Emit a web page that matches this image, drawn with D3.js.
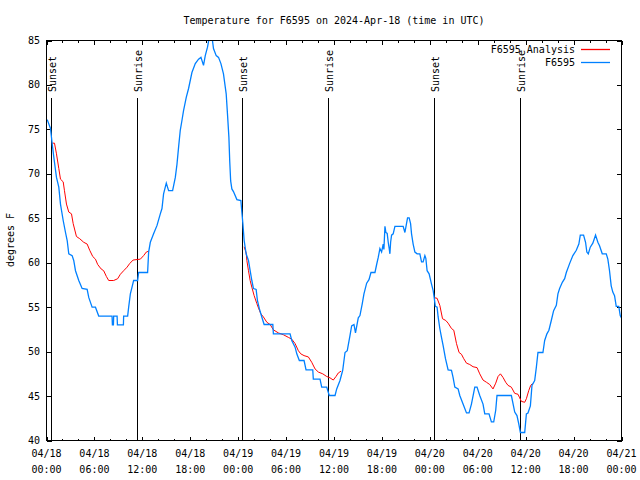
<!DOCTYPE html>
<html>
<head>
<meta charset="utf-8">
<script src="https://cdn.jsdelivr.net/npm/d3@7"></script>
<style>
  body { margin: 0; background: #fff; }
  svg { display: block; }
  text { font-family: "DejaVu Sans Mono", "Liberation Mono", monospace; font-size: 10px; fill: #000; }
</style>
</head>
<body>
<svg id="chart" width="640" height="480"></svg>
<script>
// ---- data (hours since 2024-04-18 00:00 UTC, degrees F) ----
const title = "Temperature for F6595 on 2024-Apr-18 (time in UTC)";
const yLabel = "degrees F";
const obsName = "F6595";
const anaName = "F6595 Analysis";

const obsHours = [0.09,0.5,0.71,0.91,1.13,1.25,1.54,1.75,2.09,2.38,2.59,2.79,3.21,3.41,3.63,4.04,4.46,5.09,5.29,5.71,6.13,6.54,8.21,8.25,8.38,8.41,8.84,8.88,9.63,9.66,10.16,10.29,10.5,10.71,10.91,11.41,11.54,12.66,12.79,13.0,13.41,13.84,14.25,14.46,14.66,15.0,15.29,15.79,16.13,16.34,16.54,16.75,16.96,17.16,17.5,17.79,18.21,18.63,19.04,19.34,19.66,19.88,20.16,20.41,20.71,20.91,21.25,21.54,21.84,22.16,22.5,22.66,22.84,22.94,23.06,23.21,23.41,23.84,24.34,24.46,24.59,24.75,25.0,25.29,25.5,25.71,25.91,26.25,26.41,26.66,26.96,27.25,28.34,28.41,30.5,30.71,31.13,31.34,31.66,32.25,32.5,33.34,33.41,34.25,34.46,35.09,35.29,35.41,36.13,36.34,36.75,37.09,37.38,37.66,38.0,38.21,38.5,38.69,39.04,39.25,39.54,39.75,40.09,40.38,40.63,41.13,41.34,41.54,41.75,41.96,42.16,42.25,42.38,42.5,42.66,42.79,42.91,43.0,43.09,43.21,43.41,43.63,44.66,44.88,45.09,45.21,45.41,45.59,45.71,45.91,46.13,46.41,46.75,46.96,47.16,47.38,47.5,47.66,47.91,48.21,48.41,48.54,48.69,48.91,49.04,49.25,49.46,49.66,49.96,50.29,50.71,50.91,51.13,51.54,51.75,52.16,52.59,52.91,53.21,53.63,53.91,54.25,54.66,54.88,55.41,55.71,56.0,56.25,56.41,58.21,58.63,58.91,59.13,59.34,59.88,60.09,60.29,60.59,60.79,61.13,61.34,61.54,62.16,62.38,62.66,62.91,63.21,63.5,63.84,64.04,64.25,64.59,64.88,65.09,65.5,65.91,66.34,66.66,66.84,67.25,67.5,67.66,67.84,68.09,68.41,68.75,69.04,69.25,69.59,70.09,70.29,70.5,70.71,70.91,71.13,71.34,71.66,71.84,72.0];
const obsTemps = [76.1,75.1,73.4,71.9,70.4,69.6,68.5,66.6,64.75,63.4,62.5,61.0,60.8,60.25,59.1,58.0,57.1,57.0,56.1,55.0,55.0,54.0,54.0,53.0,53.0,54.0,54.0,53.0,53.0,54.0,54.0,55.0,56.5,57.25,58.0,58.0,58.9,58.9,61.2,62.3,63.25,64.2,65.5,66.1,67.75,68.95,68.1,68.1,69.6,71.1,73.0,74.9,76.0,77.1,78.6,79.6,81.4,82.4,82.9,83.1,82.2,83.3,84.25,85.5,85.5,84.1,83.3,83.1,82.4,81.25,79.0,76.75,74.1,71.5,69.2,68.3,68.0,67.1,67.0,65.7,64.4,62.5,61.0,60.25,59.1,58.0,57.1,57.0,55.75,54.8,53.9,53.05,53.05,52.0,52.0,51.25,50.5,49.75,49.0,49.0,47.95,47.95,46.9,46.9,46.0,46.0,45.4,45.06,45.06,45.8,46.75,47.9,49.9,50.1,51.8,52.9,53.05,52.1,53.8,54.06,55.4,56.5,57.7,58.1,58.9,58.9,59.8,60.6,61.6,61.2,62.1,61.5,64.1,63.4,63.3,62.3,61.6,61.0,62.3,63.1,63.25,64.1,64.1,63.4,64.45,65.05,65.05,64.4,63.25,62.1,61.2,61.0,61.0,60.1,60.1,60.8,60.5,59.1,58.75,57.6,56.9,56.1,55.1,55.0,53.9,52.6,51.6,50.7,49.2,47.95,47.9,47.1,46.0,45.8,45.06,44.1,43.1,43.1,44.1,46.0,46.0,45.06,44.1,43.0,43.0,42.1,42.1,43.4,45.06,45.06,43.2,42.8,41.9,40.9,40.9,43.0,43.1,43.9,46.2,46.75,48.25,49.9,49.9,51.25,52.0,52.4,53.5,54.6,55.2,56.5,57.1,57.8,58.2,58.9,59.9,60.8,61.4,62.1,63.1,63.1,62.3,61.2,61.0,61.75,62.2,63.1,62.3,61.9,61.0,61.0,60.4,59.1,57.4,56.7,56.3,55.1,55.1,54.06,53.8];

// analysis series; null marks a gap between runs
const anaHours = [0.71,1.0,1.25,1.54,1.75,2.09,2.25,2.5,2.79,3.13,3.34,3.75,4.16,4.66,5.09,5.41,5.79,6.13,6.41,6.84,7.16,7.5,7.79,8.41,8.91,9.25,9.66,10.09,10.41,10.84,11.34,11.75,12.16,12.5,12.79,
  13.0,
  24.75,25.0,25.09,25.29,25.5,25.71,26.0,26.34,26.59,26.84,27.16,27.59,28.0,28.41,29.04,29.66,30.29,30.71,31.13,31.54,31.84,32.25,32.79,33.21,33.63,34.04,34.59,35.09,35.5,35.91,36.25,36.54,36.88,
  37.0,
  48.63,48.91,49.25,49.59,50.0,50.29,50.71,51.0,51.34,51.66,51.96,52.25,52.59,53.0,53.41,53.91,54.25,54.66,55.09,55.5,55.91,56.25,56.54,56.84,57.16,57.5,57.79,58.21,58.63,59.04,59.25,59.46,59.88,60.09,60.38,60.63,60.84];
const anaTemps = [73.45,73.45,72.25,70.6,69.4,69.1,68.1,66.6,65.7,65.5,64.4,62.95,62.7,62.3,62.1,61.4,60.7,60.4,59.8,59.3,59.1,58.45,58.0,58.0,58.2,58.7,59.1,59.5,59.9,60.3,60.36,60.4,60.8,61.2,61.3,
  null,
  61.8,61.1,60.25,59.1,58.0,57.25,56.3,55.4,54.8,54.25,53.9,53.3,53.05,52.45,52.1,51.9,51.6,51.4,50.9,50.1,49.75,49.55,49.4,48.8,48.05,47.7,47.5,47.2,47.05,46.8,47.2,47.6,47.8,
  null,
  56.05,56.0,55.2,53.7,53.5,53.2,52.6,52.4,50.9,49.9,49.7,49.2,48.7,48.55,48.3,48.2,47.5,46.8,46.55,46.3,45.8,46.45,47.2,47.5,47.1,46.55,46.2,46.0,45.3,45.2,44.8,44.4,44.3,44.7,45.6,46.2,46.4];

const sunHours = [0.625, 11.375, 24.5, 35.25, 48.5, 59.25];
const sunLabels = ["Sunset", "Sunrise", "Sunset", "Sunrise", "Sunset", "Sunrise"];

const yTicks = [40,45,50,55,60,65,70,75,80,85];
const xMajorHours = [0,6,12,18,24,30,36,42,48,54,60,66,72];
const xMinorHours = d3.range(0, 73, 2);
const yDomain = [40, 85];
const xDomainHours = [0, 72];

// ---- drawing ----
const t0 = Date.UTC(2024, 3, 18, 0, 0);
const toDate = h => new Date(t0 + h * 3600e3);

const L = 46.5, R = 621.5, T = 40.5, B = 440.5;
const svg = d3.select("#chart");

const x = d3.scaleUtc().domain(xDomainHours.map(toDate)).range([L, R]);
const y = d3.scaleLinear().domain(yDomain).range([B, T]);

svg.append("defs").append("clipPath").attr("id", "clip")
  .append("rect").attr("x", L).attr("y", T).attr("width", R - L).attr("height", B - T);

// ticks (inward, mirrored)
const fmtD = d3.utcFormat("%m/%d"), fmtT = d3.utcFormat("%H:%M");
const tickG = svg.append("g").attr("stroke", "#000").attr("stroke-width", 1);

function axisTicks(axisGen, tx, ty) {
  const g = svg.append("g").attr("transform", `translate(${tx},${ty})`).call(axisGen);
  g.select(".domain").remove();
  g.selectAll("text").remove();
  g.selectAll("line").attr("stroke", "#000").attr("shape-rendering", "crispEdges");
  return g;
}
// x minor
axisTicks(d3.axisBottom(x).tickValues(xMinorHours.map(toDate)).tickSizeInner(-2).tickSizeOuter(0), 0, B);
axisTicks(d3.axisTop(x).tickValues(xMinorHours.map(toDate)).tickSizeInner(-2).tickSizeOuter(0), 0, T);
// x major
axisTicks(d3.axisBottom(x).tickValues(xMajorHours.map(toDate)).tickSizeInner(-4).tickSizeOuter(0), 0, B);
axisTicks(d3.axisTop(x).tickValues(xMajorHours.map(toDate)).tickSizeInner(-4).tickSizeOuter(0), 0, T);
// y
axisTicks(d3.axisLeft(y).tickValues(yTicks).tickSizeInner(-5).tickSizeOuter(0), L, 0);
axisTicks(d3.axisRight(y).tickValues(yTicks).tickSizeInner(-5).tickSizeOuter(0), R, 0);

// x labels (two lines)
const xl = svg.append("g").selectAll("text").data(xMajorHours).join("text")
  .attr("text-anchor", "middle")
  .attr("x", d => x(toDate(d)));
xl.append("tspan").attr("x", d => x(toDate(d))).attr("y", 457).text(d => fmtD(toDate(d)));
xl.append("tspan").attr("x", d => x(toDate(d))).attr("y", 473).text(d => fmtT(toDate(d)));

// y labels
svg.append("g").selectAll("text").data(yTicks).join("text")
  .attr("text-anchor", "end").attr("x", 40).attr("y", d => y(d) + 3.5).text(d => d);

// sun lines
const sunG = svg.append("g");
sunG.selectAll("line").data(sunHours).join("line")
  .attr("x1", d => Math.round(x(toDate(d))) + 0.5).attr("x2", d => Math.round(x(toDate(d))) + 0.5)
  .attr("y1", 98).attr("y2", B).attr("stroke", "#000").attr("stroke-width", 1);
sunG.selectAll("text").data(sunHours).join("text")
  .attr("transform", d => `translate(${Math.round(x(toDate(d))) + 5},92) rotate(-90)`)
  .attr("text-anchor", "start").text((d, i) => sunLabels[i]);

// series
const obs = obsHours.map((h, i) => ({ t: toDate(h), v: obsTemps[i] }));
const ana = anaHours.map((h, i) => ({ t: toDate(h), v: anaTemps[i] }));
const line = d3.line().defined(d => d.v != null).x(d => x(d.t)).y(d => y(d.v));

const plotG = svg.append("g").attr("clip-path", "url(#clip)");
plotG.append("path").datum(ana).attr("d", line)
  .attr("fill", "none").attr("stroke", "#ff0000").attr("stroke-width", 1);
plotG.append("path").datum(obs).attr("d", line)
  .attr("fill", "none").attr("stroke", "#0080ff").attr("stroke-width", 1.3);

// border
svg.append("rect").attr("x", L).attr("y", T).attr("width", R - L).attr("height", B - T)
  .attr("fill", "none").attr("stroke", "#000").attr("stroke-width", 1);

// title & axis label
svg.append("text").attr("x", (L + R) / 2).attr("y", 24).attr("text-anchor", "middle").text(title);
svg.append("text").attr("transform", "translate(14,240) rotate(-90)").attr("text-anchor", "middle").text(yLabel);

// legend
const leg = [{ name: anaName, color: "#ff0000", yy: 49.5 }, { name: obsName, color: "#0080ff", yy: 62.5 }];
const lg = svg.append("g");
leg.forEach(d => {
  lg.append("text").attr("x", 575).attr("y", d.yy + 3.5).attr("text-anchor", "end").text(d.name);
  lg.append("line").attr("x1", 581).attr("x2", 610).attr("y1", d.yy).attr("y2", d.yy)
    .attr("stroke", d.color).attr("stroke-width", 1.3);
});
</script>
</body>
</html>
